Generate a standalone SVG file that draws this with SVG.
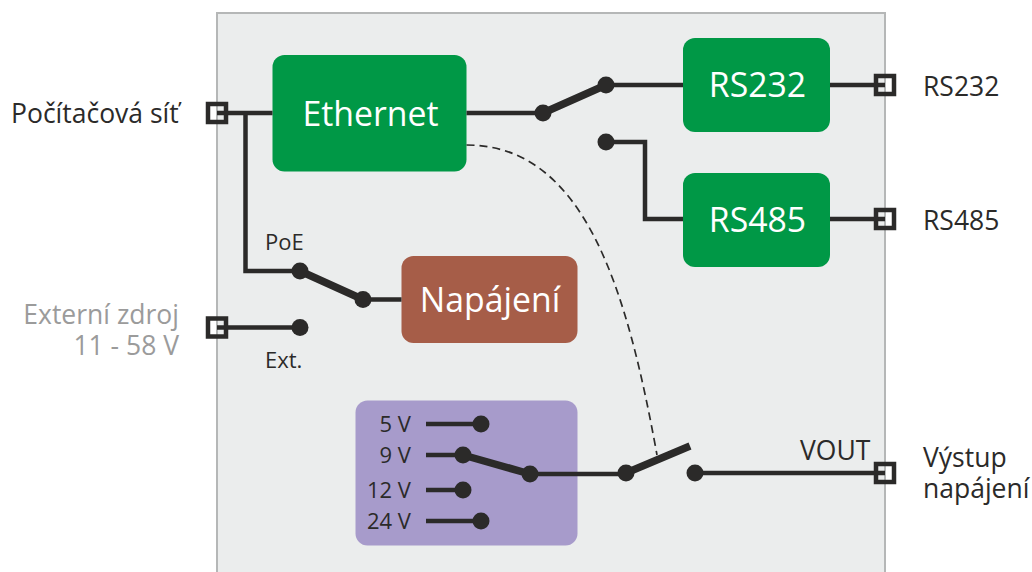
<svg xmlns="http://www.w3.org/2000/svg" width="1032" height="572" viewBox="0 0 1032 572">
<style>
text{font-family:"Open Sans","Noto Sans","DejaVu Sans",sans-serif;fill:#2b2a29}
.l{font-size:26.500px}
.s{font-size:22px}
.b{font-size:33.800px;fill:#fff;text-anchor:middle}
.w{fill:none;stroke:#2b2a29;stroke-width:4.500}
.k{fill:none;stroke:#2b2a29;stroke-width:7.500}
.g{fill:#009846}
circle{fill:#2b2a29}
.p{fill:none;stroke:#2b2a29;stroke-width:4.500}
</style>
<rect id="panel" x="217" y="13" width="668" height="570" fill="#ebeded" stroke="#b5b7b7" stroke-width="2"/>
<g id="ethernet"><rect class="g" x="272.500" y="55" width="194" height="116.500" rx="12"/><text class="b" x="370.500" y="126">Ethernet</text></g>
<g id="rs232"><rect class="g" x="683" y="38" width="147" height="94" rx="12"/><text class="b" x="757.500" y="97">RS232</text></g>
<g id="rs485"><rect class="g" x="683" y="173" width="147" height="94" rx="12"/><text class="b" x="757.500" y="232">RS485</text></g>
<g id="napajeni"><rect x="401.500" y="256" width="176" height="87" rx="12" fill="#a65d48"/><text class="b" x="490" y="312">Napájení</text></g>
<g id="voltage"><rect x="355.500" y="400.500" width="222" height="145" rx="12" fill="#a79bcb"/>
<text class="s" x="411" y="432" text-anchor="end">5 V</text>
<text class="s" x="411" y="463" text-anchor="end">9 V</text>
<text class="s" x="411" y="498" text-anchor="end">12 V</text>
<text class="s" x="411" y="529" text-anchor="end">24 V</text></g>
<g id="connectors">
<path class="w" d="M217 113H272.500M245.500 113V271H300M363 299.500H401.500M217 327.500H300M466.500 113H543M606 85H683M830 85H885M606 142H645V219H683M830 219H885M426 424H481M426 455H463M426 490H463M426 521H481M530 474H626M695 473H885"/>
<path class="k" d="M300 271L363 299.500M543 113L606 85M463 455L530 474M626 473L690 446"/>
<path fill="none" stroke="#2b2a29" stroke-width="1.700" stroke-dasharray="8 5" d="M466.500 145C585 145 627 290 657 455"/>
<circle cx="300" cy="271" r="8.500"/><circle cx="363" cy="299.500" r="8.500"/><circle cx="300" cy="327.500" r="8.500"/>
<circle cx="543" cy="113" r="8.500"/><circle cx="606" cy="85" r="8.500"/><circle cx="606" cy="142" r="8.500"/>
<circle cx="481" cy="424" r="8.500"/><circle cx="463" cy="455" r="8.500"/><circle cx="463" cy="490" r="8.500"/><circle cx="481" cy="521" r="8.500"/><circle cx="530" cy="474" r="8.500"/>
<circle cx="626" cy="473" r="8.500"/><circle cx="695" cy="473" r="8.500"/>
<rect class="p" x="208" y="104" width="18" height="18"/><rect class="p" x="208" y="318.500" width="18" height="18"/>
<rect class="p" x="876" y="76" width="18" height="18"/><rect class="p" x="876" y="210" width="18" height="18"/><rect class="p" x="876" y="464" width="18" height="18"/>
</g>
<text class="l" x="11" y="123">Počítačová síť</text>
<text class="l" x="179" y="324" text-anchor="end" style="fill:#9b9b9b">Externí zdroj</text>
<text class="l" x="179" y="355" text-anchor="end" style="fill:#9b9b9b">11 - 58 V</text>
<text class="s" x="265" y="250">PoE</text>
<text class="s" x="265" y="368">Ext.</text>
<text class="l" x="923" y="96">RS232</text>
<text class="l" x="923" y="230">RS485</text>
<text class="l" x="800" y="460">VOUT</text>
<text class="l" x="923" y="467">Výstup</text>
<text class="l" x="923" y="498">napájení</text>
</svg>
